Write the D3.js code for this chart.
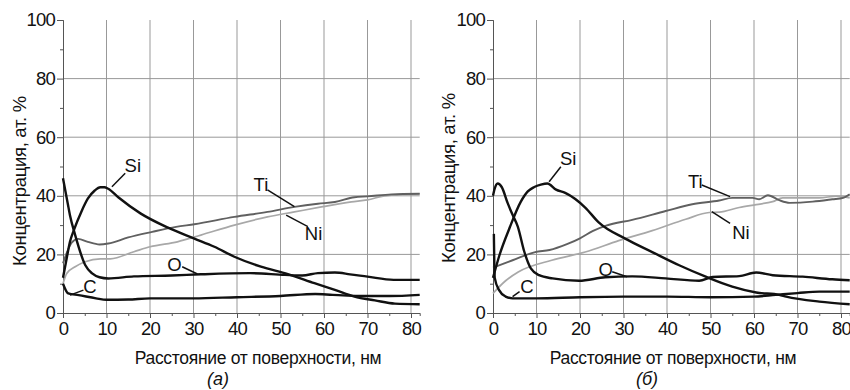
<!DOCTYPE html>
<html>
<head>
<meta charset="utf-8">
<script src="https://cdn.jsdelivr.net/npm/d3@7"></script>
<style>
body { margin: 0; background: #fff; }
text { font-family: "Liberation Sans", Arial, sans-serif; fill: #111; }
</style>
</head>
<body>
<svg id="chart" width="850" height="390"></svg>
<script>
// tick values
var xTicks = [0, 10, 20, 30, 40, 50, 60, 70, 80];
var xMinor = [5, 15, 25, 35, 45, 55, 65, 75];
var yTicks = [0, 20, 40, 60, 80, 100];
var yMinor = [10, 30, 50, 70, 90];

// panel (а): [distance nm, at.%]
var siA = [[0,12],[0.85,18.7],[1.6,24.3],[2.5,28.3],[4.2,34.5],[5.7,39],[7.3,41.8],[8.6,42.9],[9.5,42.9],[10.4,42.4],[12.7,39.5],[17.8,34],[24,29.2],[30.2,25.4],[34.8,22.6],[39.4,19.2],[45.5,15.8],[51.7,13.3],[57.8,10.2],[62.5,7.9],[67,5.6],[71.7,4.3],[76.3,3.2],[82,3]];
var oA  = [[0,46],[1.1,37.3],[1.6,33.4],[2.8,26.6],[5.1,16.4],[6.7,13.5],[8.4,12.2],[10.4,11.8],[16.3,12.5],[25,12.8],[31.7,13.2],[43,13.6],[51,13],[55,12.8],[58.6,13.6],[62.5,13.8],[66,13.2],[70,12.4],[76,11.3],[82,11.3]];
var cA  = [[0,10],[1.2,6.7],[3.6,6.1],[7.6,5],[10,4.5],[15,4.6],[20,5],[30,5],[40,5.4],[50,5.8],[58,6.5],[62,6.2],[70,5.8],[75,5.8],[82,6.2]];
var tiA = [[0,17],[1,21],[2,24],[3.5,25.3],[5.7,24.3],[8.4,23.4],[10.4,23.7],[15,25.8],[20.5,27.7],[26,29.4],[30.2,30.3],[39.4,32.8],[47,34.5],[53.2,36.2],[58.6,37.3],[62.5,37.9],[67,39.5],[70,39.8],[75.5,40.5],[82,40.7]];
var niA = [[0,10],[0.85,13.5],[2.8,15.8],[5.1,17.5],[8.6,18.5],[10.9,18.5],[16.3,20.9],[20,22.6],[26.3,24.3],[31.7,26.6],[39.4,30],[47,32.8],[53.2,34.5],[59.4,36.2],[66.3,37.9],[70,38.6],[74,40],[82,40.7]];

// panel (б)
var siB = [[0,12],[1.5,19.8],[3.8,29],[6.4,38],[8,41.5],[9.5,43],[11,43.8],[12.5,44.2],[14.5,42.1],[16.6,41],[21.2,36],[24.3,30.9],[30.5,25.3],[36.6,20.8],[42.8,16.3],[48.9,12.4],[55,9],[60.5,7],[65.8,6.2],[67.4,5.6],[75,3.9],[82,3]];
var oB  = [[0,40],[0.3,42],[1.1,44.2],[2,43],[3.4,37.4],[4.5,33.5],[5.7,29.5],[7.2,20.9],[8.7,15.2],[10.6,12.9],[13.7,11.8],[19.8,11],[25.8,12.2],[32,12.5],[39.7,11.8],[47.4,11],[50.5,12.3],[56.6,12.6],[60.5,13.8],[64.3,12.9],[71.2,12.4],[78,11.5],[82,11.2]];
var cB  = [[0.2,27],[0.4,12],[1.4,7.8],[2.9,5.6],[4.5,5],[10,5],[20,5.4],[30,5.6],[40,5.6],[50,5.4],[60,5.6],[65,6.2],[70,6.8],[75,7.3],[82,7.3]];
var tiB = [[0,15.5],[4.5,18],[9.7,20.8],[13,21.5],[17,23.5],[20,25.5],[23,28],[26,29.8],[32,31.8],[39.7,34.8],[45.8,37.1],[52,38.4],[55,39.3],[59.7,39.3],[61.2,38.8],[63.2,40.2],[65.8,38.5],[68.2,37.6],[73.5,38],[78,38.8],[80.5,39.3],[82,40.5]];
var niB = [[0,6.7],[2.9,11],[5.8,14],[13.5,18],[21.2,20.8],[28.9,24.7],[36.6,28.1],[44.3,32],[49.7,34.3],[52,34.4],[56.6,36],[60.5,37],[64.3,38],[66.6,39.3],[71.2,39.3],[75,39.3],[79,39.9],[82,39.3]];

// label: [text x, text y, leader from x, y, leader to x, y] in data units
var notesA = {
    Si: [16.05, 50.2, 14.3, 47.7, 11.25, 43.1],
    Ti: [45.5, 43.7, 47.0, 42.0, 53.2, 36.3],
    Ni: [57.6, 27.3, 56.3, 29.5, 51.3, 33.4],
    O:  [25.6, 16.4, 27.4, 15.8, 30.9, 13.3],
    C:  [6.2, 9.0, 4.7, 7.8, 1.6, 6.1]
};
var notesB = {
    Si: [17.3, 52.8, 15.6, 49.9, 12.9, 44.8],
    Ti: [46.5, 44.8, 48.0, 43.7, 54.5, 39.7],
    Ni: [57.0, 27.5, 54.5, 30.6, 50.3, 34.6],
    O:  [25.9, 15.0, 27.4, 14.1, 30.8, 12.4],
    C:  [7.8, 9.0, 6.1, 7.3, 4.5, 5.6]
};

var xTitle = 'Расстояние от поверхности, нм';
var yTitle = 'Концентрация, ат. %';

var svg = d3.select('#chart');

var styles = {
    Ni: {color: '#a8a8a8', width: 1.7},
    Ti: {color: '#606060', width: 1.9},
    O:  {color: '#111', width: 2.4},
    C:  {color: '#111', width: 2.4},
    Si: {color: '#111', width: 2.4}
};

drawPanel({left: 63, data: {Ni: niA, Ti: tiA, O: oA, C: cA, Si: siA}, notes: notesA,
    caption: '(а)', titleX: 258, capX: 218, yTitleX: 19, yTitleY: 181});
drawPanel({left: 493, data: {Ni: niB, Ti: tiB, O: oB, C: cB, Si: siB}, notes: notesB,
    caption: '(б)', titleX: 673, capX: 647, yTitleX: 448, yTitleY: 178});

function drawPanel(p) {
    var top = 20, width = 356.7, height = 293;

    var xScale = d3.scaleLinear().domain([0, 82]).range([0, width]);
    var yScale = d3.scaleLinear().domain([0, 100]).range([height, 0]);

    var g = svg.append('g').attr('transform', `translate(${p.left}, ${top})`);

    // grid
    g.selectAll('.vgrid').data(xTicks.slice(1)).enter().append('line')
        .attr('x1', d => xScale(d)).attr('x2', d => xScale(d))
        .attr('y1', 0).attr('y2', height)
        .attr('stroke', '#999').attr('stroke-width', 1);
    g.selectAll('.hgrid').data(yTicks.slice(1, -1)).enter().append('line')
        .attr('x1', 0).attr('x2', width)
        .attr('y1', d => yScale(d)).attr('y2', d => yScale(d))
        .attr('stroke', '#999').attr('stroke-width', 1);

    // axes
    var xAxis = d3.axisBottom(xScale).tickValues(xTicks).tickSize(5).tickSizeOuter(0).tickPadding(4);
    var xMin = d3.axisBottom(xScale).tickValues(xMinor).tickSize(3).tickFormat('');
    var yAxis = d3.axisLeft(yScale).tickValues(yTicks).tickSize(6).tickSizeOuter(0).tickPadding(2);
    var yMin = d3.axisLeft(yScale).tickValues(yMinor).tickSize(3).tickFormat('');

    [[xAxis, `translate(0, ${height})`], [xMin, `translate(0, ${height})`], [yAxis, null], [yMin, null]]
        .forEach(a => {
            var ag = g.append('g').call(a[0]);
            if (a[1]) ag.attr('transform', a[1]);
            ag.select('.domain').attr('stroke', '#555');
            ag.selectAll('.tick line').attr('stroke', '#555');
            ag.selectAll('text')
                .style('font-size', '18.5px')
                .style('letter-spacing', '-0.8px')
                .attr('fill', '#111');
        });

    // series
    var line = d3.line()
        .x(d => xScale(d[0]))
        .y(d => yScale(d[1]))
        .curve(d3.curveMonotoneX);

    Object.keys(p.data).forEach(k => {
        g.append('path')
            .datum(p.data[k])
            .attr('d', line)
            .attr('fill', 'none')
            .attr('stroke', styles[k].color)
            .attr('stroke-width', styles[k].width)
            .attr('stroke-linejoin', 'round');
    });

    // labels with leaders
    Object.keys(p.notes).forEach(k => {
        var n = p.notes[k];
        g.append('line')
            .attr('x1', xScale(n[2])).attr('y1', yScale(n[3]))
            .attr('x2', xScale(n[4])).attr('y2', yScale(n[5]))
            .attr('stroke', '#111').attr('stroke-width', 1.5);
        g.append('text')
            .attr('x', xScale(n[0])).attr('y', yScale(n[1]))
            .attr('text-anchor', 'middle')
            .attr('dominant-baseline', 'central')
            .style('font-size', '18.5px')
            .text(k);
    });

    // titles
    svg.append('text')
        .attr('x', p.titleX).attr('y', 358)
        .attr('text-anchor', 'middle')
        .attr('dominant-baseline', 'central')
        .style('font-size', '17.5px')
        .style('letter-spacing', '-0.3px')
        .text(xTitle);
    svg.append('text')
        .attr('x', p.capX).attr('y', 379)
        .attr('text-anchor', 'middle')
        .attr('dominant-baseline', 'central')
        .style('font-size', '18px')
        .style('font-style', 'italic')
        .text(p.caption);
    svg.append('text')
        .attr('transform', `translate(${p.yTitleX}, ${p.yTitleY}) rotate(-90)`)
        .attr('text-anchor', 'middle')
        .attr('dominant-baseline', 'central')
        .style('font-size', '18.5px')
        .style('letter-spacing', '-0.3px')
        .text(yTitle);
}
</script>
</body>
</html>
